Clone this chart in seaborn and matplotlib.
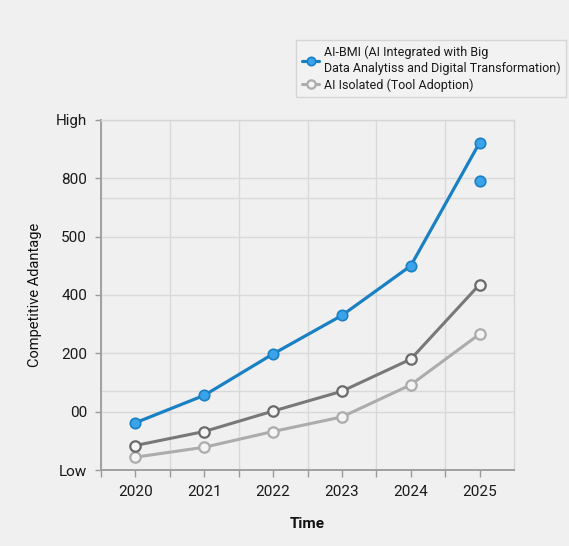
import matplotlib
matplotlib.use("Agg")
import matplotlib.pyplot as plt
from matplotlib.ticker import FixedLocator
import seaborn as sns
import pandas as pd

# ---- data ----
years = [2020, 2021, 2022, 2023, 2024, 2025]
ai_bmi = [0.81, 1.28, 1.99, 2.65, 3.50, 5.61]
ai_bmi_extra_year = [2025]
ai_bmi_extra = [4.95]
ai_mid = [0.42, 0.66, 1.01, 1.35, 1.90, 3.18]
ai_isolated = [0.22, 0.39, 0.66, 0.91, 1.46, 2.33]
y_tick_values = [0, 1, 2, 3, 4, 5, 6]
y_tick_labels = ["Low", "00", "200", "400", "500", "800", "High"]
y_extra_grid = [1.35, 4.66]
x_tick_labels = ["2020", "2021", "2022", "2023", "2024", "2025"]
label_bmi = "AI-BMI (AI Integrated with Big\nData Analytiss and Digital Transformation)"
label_iso = "AI Isolated (Tool Adoption)"

sns.set_theme(style="whitegrid")
plt.rcParams["font.family"] = ["Roboto", "DejaVu Sans"]

BG = "#f0f0f0"
BLUE = "#1a80c4"
BLUE_FACE = "#3ba3e9"
DARK = "#787878"
LIGHT = "#acacac"
GRID = "#d9d9d9"

fig = plt.figure(figsize=(5.69, 5.46), dpi=100, facecolor=BG)
ax = fig.add_axes([101/569, 1-470/546, (514-101)/569, (470-120)/546])
ax.set_facecolor(BG)

df = pd.DataFrame({"year": years, "bmi": ai_bmi, "mid": ai_mid, "iso": ai_isolated})

sns.lineplot(data=df, x="year", y="iso", ax=ax, color=LIGHT, linewidth=2.2,
             marker="o", markersize=7.5, markerfacecolor="#f4f4f4",
             markeredgecolor=LIGHT, markeredgewidth=1.6, label=label_iso, zorder=3)
sns.lineplot(data=df, x="year", y="mid", ax=ax, color=DARK, linewidth=2.2,
             marker="o", markersize=7.5, markerfacecolor="#f4f4f4",
             markeredgecolor="#6a6a6a", markeredgewidth=1.6, label="_nolegend_", zorder=4)
sns.lineplot(data=df, x="year", y="bmi", ax=ax, color=BLUE, linewidth=2.3,
             marker="o", markersize=7.5, markerfacecolor=BLUE_FACE,
             markeredgecolor=BLUE, markeredgewidth=1.2, label=label_bmi, zorder=5)
sns.scatterplot(x=ai_bmi_extra_year, y=ai_bmi_extra, ax=ax, s=58, color=BLUE_FACE,
                edgecolor=BLUE, linewidth=1.2, zorder=5, legend=False)

ax.set_xlim(2019.5, 2025.5)
ax.set_ylim(0, 6)

ax.xaxis.set_major_locator(FixedLocator(years))
ax.set_xticklabels(x_tick_labels)
ax.xaxis.set_minor_locator(FixedLocator([y - 0.5 for y in years]))
ax.yaxis.set_major_locator(FixedLocator(y_tick_values))
ax.set_yticklabels(y_tick_labels)
ax.yaxis.set_minor_locator(FixedLocator(y_extra_grid))

ax.grid(False)
ax.grid(which="minor", axis="x", color=GRID, linewidth=1.0)
ax.grid(which="major", axis="y", color=GRID, linewidth=1.0)
ax.grid(which="minor", axis="y", color=GRID, linewidth=1.0)
ax.set_axisbelow(True)

ax.tick_params(axis="x", which="both", direction="out", length=5, width=1,
               color="#9a9a9a", bottom=True, labelsize=11, pad=6, labelcolor="#1a1a1a")
ax.tick_params(axis="y", which="major", direction="out", length=4, width=1,
               color="#9a9a9a", left=True, labelsize=11, pad=6, labelcolor="#1a1a1a")
ax.tick_params(axis="y", which="minor", length=0)

for side in ["left", "bottom"]:
    ax.spines[side].set_color("#a0a0a0")
    ax.spines[side].set_linewidth(1.4)
for side in ["top", "right"]:
    ax.spines[side].set_color("#d6d6d6")
    ax.spines[side].set_linewidth(1.0)

ax.set_xlabel("Time", fontsize=11, fontweight="bold", color="#111111", labelpad=13)
ax.set_ylabel("Competitive Adantage", fontsize=10.5, color="#111111", labelpad=10)

handles, labels = ax.get_legend_handles_labels()
order = [labels.index(label_bmi), labels.index(label_iso)]
ax.get_legend().remove()
leg = fig.legend([handles[i] for i in order], [labels[i] for i in order],
                 loc="upper right", bbox_to_anchor=(566/569, 1-40/546),
                 fontsize=9.0, frameon=True, fancybox=False, handlelength=1.4,
                 handletextpad=0.35, borderpad=0.45, labelspacing=0.3,
                 borderaxespad=0, markerscale=0.8)
leg.get_frame().set_facecolor("#f3f3f3")
leg.get_frame().set_edgecolor("#cfcfcf")
leg.get_frame().set_linewidth(1.0)
for t in leg.get_texts():
    t.set_color("#1a1a1a")

fig.savefig("out.png", dpi=100, facecolor=BG)
